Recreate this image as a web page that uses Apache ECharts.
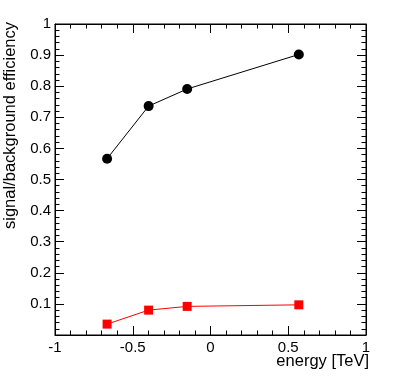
<!DOCTYPE html>
<html>
<head>
    <meta charset="utf-8">
    <title>signal/background efficiency</title>
    <script src="https://cdn.jsdelivr.net/npm/echarts@6/dist/echarts.min.js"></script>
</head>
<body style="margin:0;background:#fff;">
    <div id="main" style="width:415px;height:390px;"></div>
    <script>
        // data
        var energy = [-0.665, -0.398, -0.150, 0.568];
        var signalEff = [0.567, 0.736, 0.791, 0.902];
        var backgroundEff = [0.035, 0.080, 0.092, 0.097];

        var font = 'Liberation Sans, Arial, sans-serif';

        function pairs(xs, ys) {
            return xs.map(function (x, i) { return [x, ys[i]]; });
        }

        var myChart = echarts.init(document.getElementById('main'));

        // tick styling shared by all four frame axes
        function frameAxis(extra) {
            var a = {
                type: 'value',
                axisLine: { show: true, onZero: false, lineStyle: { color: '#000', width: 1 } },
                axisTick: { show: true, inside: true, length: 9, lineStyle: { color: '#000' } },
                minorTick: { show: true, splitNumber: 5, length: 4.5, lineStyle: { color: '#000' } },
                splitLine: { show: false },
                minorSplitLine: { show: false }
            };
            for (var k in extra) a[k] = extra[k];
            return a;
        }

        var option = {
            animation: false,
            backgroundColor: '#fff',
            grid: { left: 55, top: 24, width: 311, height: 311, show: true, borderColor: '#000', borderWidth: 1 },
            xAxis: [
                frameAxis({
                    position: 'bottom', min: -1, max: 1, interval: 0.5,
                    axisLabel: {
                        color: '#000', fontSize: 15, fontFamily: font, margin: 5,
                        formatter: function (v) { return String(v); }
                    }
                }),
                frameAxis({ position: 'top', min: -1, max: 1, interval: 0.5, axisLabel: { show: false } })
            ],
            yAxis: [
                frameAxis({
                    position: 'left', min: 0, max: 1, interval: 0.1,
                    axisLabel: {
                        color: '#000', fontSize: 15, fontFamily: font, margin: 4,
                        formatter: function (v) { return v === 0 ? '' : String(+v.toFixed(1)); }
                    }
                }),
                frameAxis({ position: 'right', min: 0, max: 1, interval: 0.1, axisLabel: { show: false } })
            ],
            series: [
                {
                    name: 'signal',
                    type: 'line',
                    data: pairs(energy, signalEff),
                    symbol: 'circle',
                    symbolSize: 10,
                    itemStyle: { color: '#000' },
                    lineStyle: { color: '#000', width: 1 }
                },
                {
                    name: 'background',
                    type: 'line',
                    data: pairs(energy, backgroundEff),
                    symbol: 'rect',
                    symbolSize: 9,
                    itemStyle: { color: '#ff0000' },
                    lineStyle: { color: '#ff0000', width: 1 }
                }
            ],
            graphic: [
                {
                    type: 'text', x: 10, y: 22, rotation: Math.PI / 2,
                    style: {
                        text: 'signal/background efficiency', fill: '#000',
                        font: '16.5px ' + font, align: 'right', verticalAlign: 'middle'
                    }
                },
                {
                    type: 'text', x: 369, y: 361,
                    style: {
                        text: 'energy [TeV]', fill: '#000',
                        font: '16.5px ' + font, align: 'right', verticalAlign: 'middle'
                    }
                }
            ]
        };

        myChart.setOption(option);
    </script>
</body>
</html>
